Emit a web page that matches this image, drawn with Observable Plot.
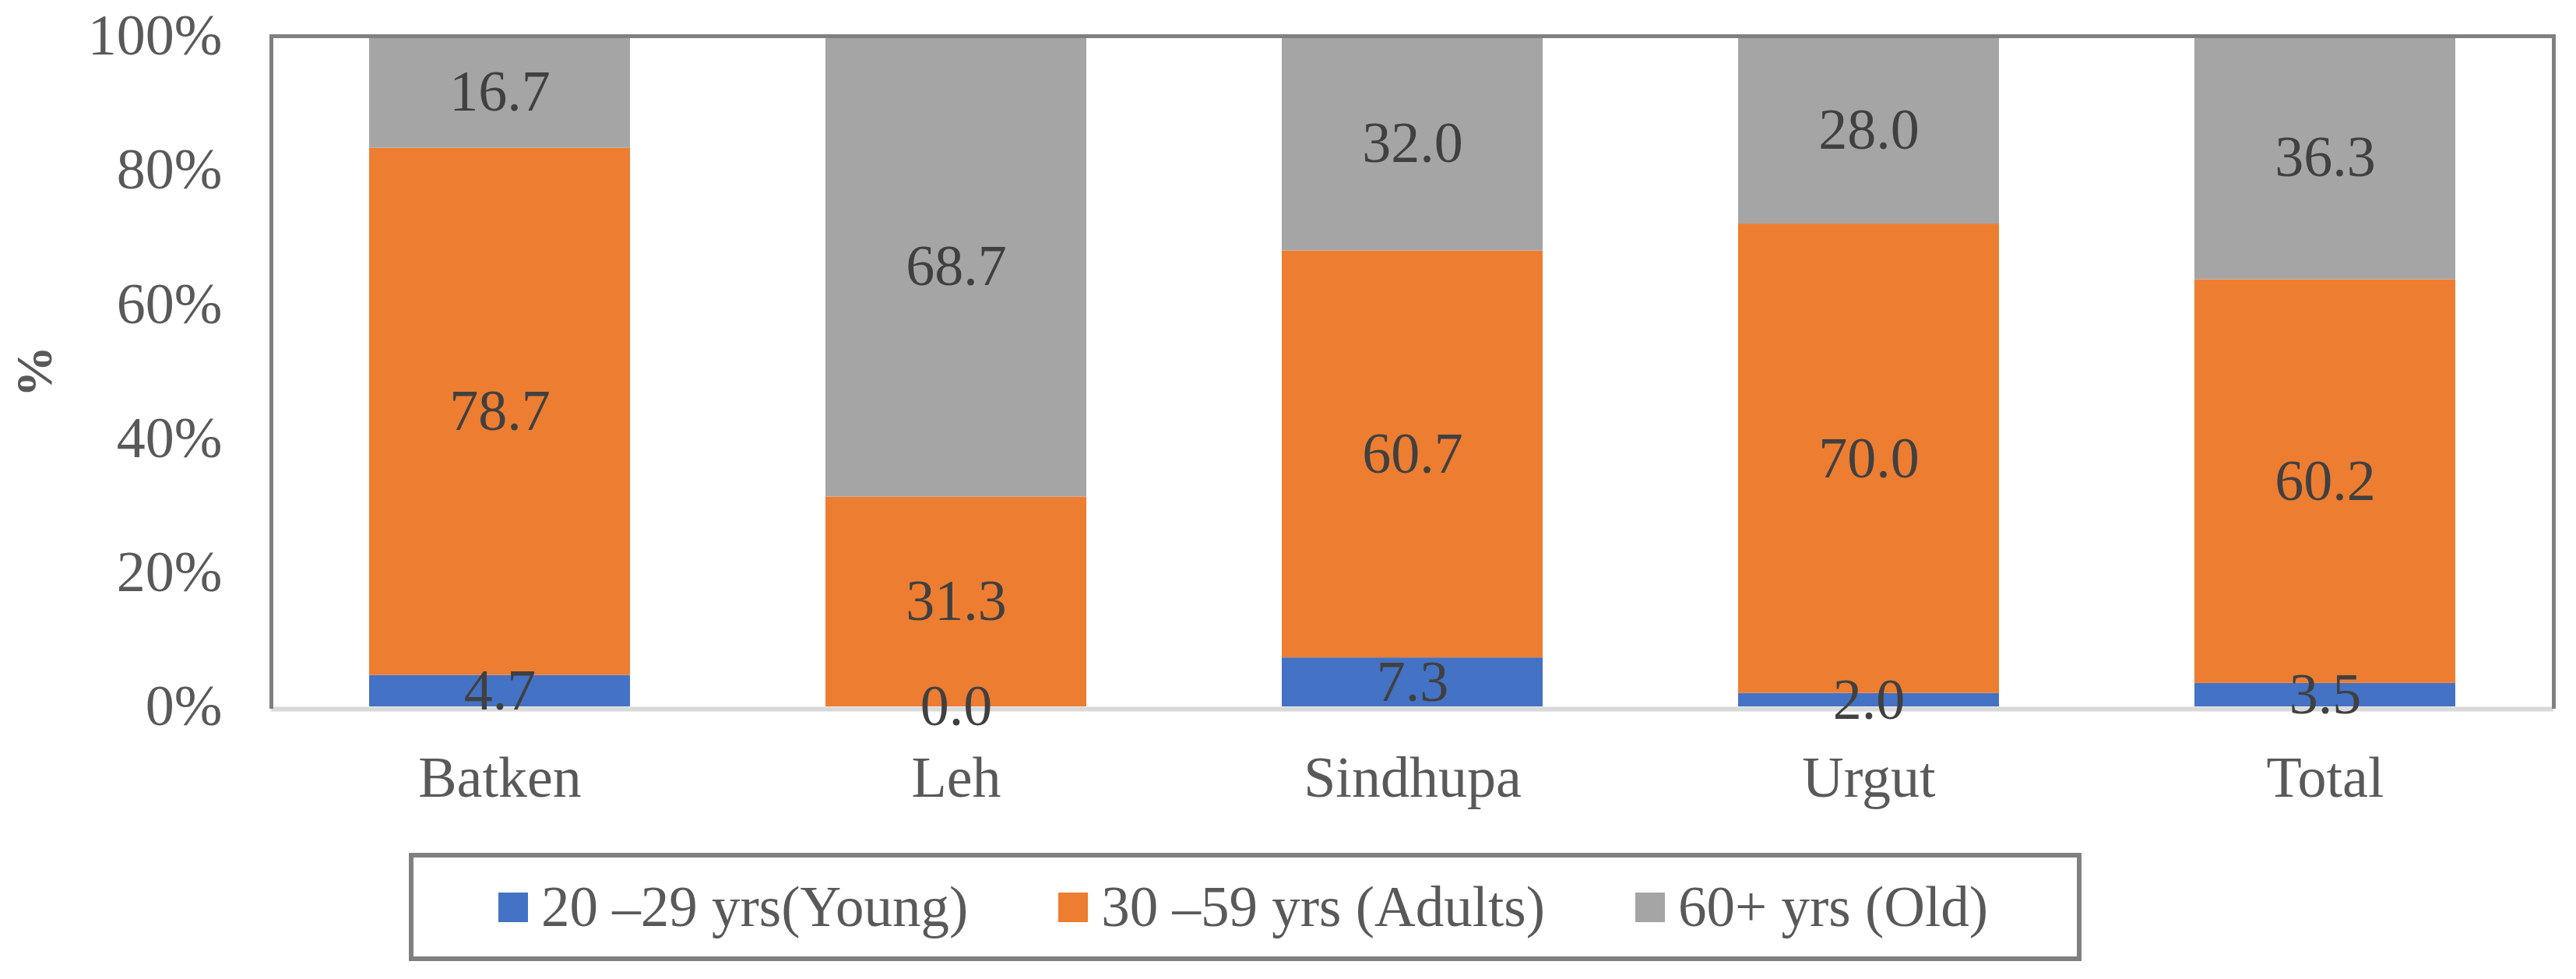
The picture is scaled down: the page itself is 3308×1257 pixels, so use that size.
<!DOCTYPE html>
<html><head><meta charset="utf-8">
<script src="https://cdn.jsdelivr.net/npm/d3@7"></script>
<script src="https://cdn.jsdelivr.net/npm/@observablehq/plot@0.6"></script>
<style>
body{margin:0;background:#fff;font-family:"Liberation Serif","Times New Roman",serif;}
#chart{width:3308px;}
.legend{box-sizing:border-box;margin-left:525px;margin-top:35px;width:2148px;height:139px;border:6px solid #808080;display:flex;align-items:center;padding-left:109px;font-size:73px;color:#595959;white-space:nowrap;}
.item{display:flex;align-items:center;margin-right:116px;}
.sw{width:38px;height:38px;margin-right:17px;flex:none;}
</style></head><body><div id="chart"></div>
<script>
const regions = ["Batken","Leh","Sindhupa","Urgut","Total"];
const groups = ["20 –29 yrs(Young)","30 –59 yrs (Adults)","60+ yrs (Old)"];
const young = [4.7, 0.0, 7.3, 2.0, 3.5];
const adults = [78.7, 31.3, 60.7, 70.0, 60.2];
const old = [16.7, 68.7, 32.0, 28.0, 36.3];
const colors = ["#4472C4", "#ED7D31", "#A5A5A5"];
const yTicks = [0, 20, 40, 60, 80, 100];
const yTitle = "%";

const series = [young, adults, old];
const data = [];
groups.forEach((g, gi) => regions.forEach((r, ri) => data.push({region: r, group: g, value: series[gi][ri]})));

const W = 3308, H = 1060, FONT = '"Liberation Serif","Times New Roman",serif';
const chart = Plot.plot({
  width: W, height: H,
  marginLeft: 348, marginRight: 29, marginTop: 46, marginBottom: H - 907,
  style: {fontFamily: FONT, background: "#fff", overflow: "visible"},
  x: {domain: regions, paddingInner: 0.428, paddingOuter: 0.214, label: null},
  y: {domain: [0, 1], label: null},
  color: {domain: groups, range: colors},
  marks: [
    Plot.barY(data, Plot.stackY({x: "region", y: "value", z: "group", fill: "group", offset: "normalize"})),
    Plot.ruleY([0], {stroke: "#D9D9D9", strokeWidth: 6, dy: 3}),
    Plot.frame({anchor: "left", stroke: "#808080", strokeWidth: 5}),
    Plot.frame({anchor: "top", stroke: "#808080", strokeWidth: 5}),
    Plot.frame({anchor: "right", stroke: "#808080", strokeWidth: 5}),
    Plot.axisY({ticks: yTicks.map(d => d / 100), tickFormat: d => Math.round(d * 100) + "%", tickSize: 0, tickPadding: 63, fontSize: 74, color: "#595959", label: null}),
    Plot.axisX({tickSize: 0, tickPadding: 63, fontSize: 74, color: "#595959", label: null}),
    Plot.text(data, Plot.stackY({x: "region", y: "value", z: "group", offset: "normalize", text: d => d.value.toFixed(1), fill: "#404040", fontSize: 74})),
    Plot.text([yTitle], {frameAnchor: "left", dx: -304, rotate: -90, textAnchor: "middle", lineAnchor: "middle", text: d => d, fontSize: 66, fontWeight: "bold", fill: "#595959"})
  ]
});
const host = document.getElementById("chart");
host.appendChild(chart);

const legend = document.createElement("div");
legend.className = "legend";
groups.forEach((g, i) => {
  const it = document.createElement("div");
  it.className = "item";
  const sw = document.createElement("span");
  sw.className = "sw";
  sw.style.background = colors[i];
  const tx = document.createElement("span");
  tx.textContent = g;
  it.appendChild(sw); it.appendChild(tx);
  legend.appendChild(it);
});
host.appendChild(legend);
</script></body></html>
